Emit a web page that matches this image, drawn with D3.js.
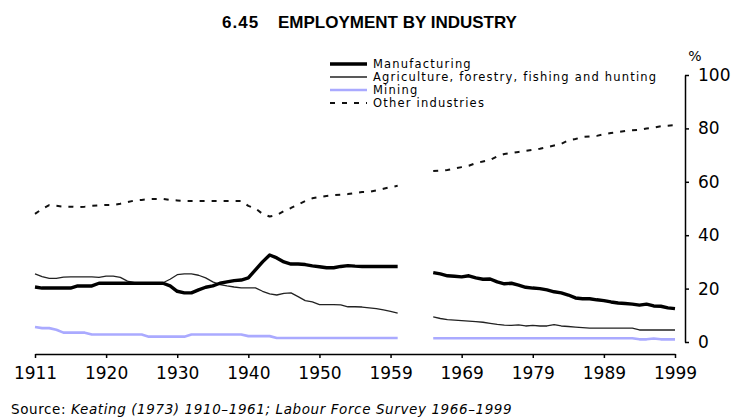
<!DOCTYPE html>
<html>
<head>
<meta charset="utf-8">
<script src="https://cdn.jsdelivr.net/npm/d3@7"></script>
<style>
  html, body { margin: 0; padding: 0; background: #fff; }
  svg { display: block; }
</style>
</head>
<body>
<svg id="chart" width="733" height="419"></svg>
<script>
// ---- Data (one value per period slot; null = no data between the two sources) ----
const xTickLabels = ["1911", "1920", "1930", "1940", "1950", "1959", "1969", "1979", "1989", "1999"];
const yTickValues = [0, 20, 40, 60, 80, 100];

const manufacturing = [
  20.6, 20.2, 20.2, 20.2, 20.2, 20.2, 21, 21, 21, 22,
  22, 22, 22, 22, 22, 22, 22, 22, 22, 21,
  19, 18.4, 18.4, 19.5, 20.5, 21, 22, 22.5, 23, 23.2,
  24, 27, 30, 32.6, 31.5, 30, 29.2, 29.2, 29, 28.5,
  28.2, 27.8, 27.8, 28.3, 28.6, 28.4, 28.3, 28.3, 28.3, 28.3,
  28.3, 28.3, null, null, null, null, 26, 25.5, 24.8, 24.6,
  24.4, 24.8, 24, 23.5, 23.6, 22.5, 21.8, 22, 21.3, 20.5,
  20.2, 20, 19.5, 18.8, 18.4, 17.6, 16.5, 16.2, 16.2, 15.8,
  15.5, 15, 14.6, 14.4, 14.2, 13.8, 14.2, 13.5, 13.4, 12.8,
  12.5
];
const agriculture = [
  25.5, 24.5, 23.8, 23.8, 24.3, 24.4, 24.4, 24.4, 24.4, 24.2,
  24.7, 24.7, 24.2, 22.8, 22.2, 22.2, 22.2, 22.2, 22.2, 23.5,
  25.2, 25.5, 25.5, 25, 24, 22.5, 21.5, 21, 20.6, 20.3,
  20.3, 20.3, 19, 18, 17.6, 18.2, 18.4, 17, 15.5, 15,
  14, 14, 14, 13.9, 13.2, 13.2, 13.1, 12.8, 12.5, 12,
  11.5, 10.8, null, null, null, null, 9.4, 8.8, 8.4, 8.2,
  8, 7.8, 7.6, 7.4, 7, 6.6, 6.3, 6.2, 6.4, 6,
  6.2, 6, 6, 6.5, 6, 5.8, 5.6, 5.4, 5.2, 5.2,
  5.2, 5.2, 5.2, 5.2, 5.2, 4.5, 4.5, 4.5, 4.5, 4.5,
  4.5
];
const mining = [
  5.6, 5.2, 5.2, 4.6, 3.5, 3.5, 3.5, 3.5, 2.8, 2.8,
  2.8, 2.8, 2.8, 2.8, 2.8, 2.8, 2, 2, 2, 2,
  2, 2, 2.8, 2.8, 2.8, 2.8, 2.8, 2.8, 2.8, 2.8,
  2.2, 2.2, 2.2, 2.2, 1.5, 1.5, 1.5, 1.5, 1.5, 1.5,
  1.5, 1.5, 1.5, 1.5, 1.5, 1.5, 1.5, 1.5, 1.5, 1.5,
  1.5, 1.5, null, null, null, null, 1.4, 1.4, 1.4, 1.4,
  1.4, 1.4, 1.4, 1.4, 1.4, 1.4, 1.4, 1.4, 1.4, 1.4,
  1.4, 1.4, 1.4, 1.4, 1.4, 1.4, 1.4, 1.4, 1.4, 1.4,
  1.4, 1.4, 1.4, 1.4, 1.4, 1.0, 1.0, 1.3, 1.0, 1.0,
  1.0
];
const otherIndustries = [
  48, 49.8, 51.3, 51, 50.7, 50.7, 50.5, 50.7, 51, 51.2,
  51.3, 51.3, 51.8, 52.4, 53, 53.2, 53.5, 53.6, 53.6, 53.2,
  53, 52.8, 52.8, 52.8, 52.8, 52.8, 52.8, 52.8, 52.8, 52.8,
  51, 50, 48, 47, 47.6, 49, 50.2, 51.5, 52.8, 53.8,
  54.3, 54.7, 55, 55.2, 55.4, 55.8, 56.2, 56.2, 56.8, 57.4,
  58, 58.5, null, null, null, null, 64, 64.2, 64.4, 65,
  65.5, 66, 67, 67.6, 68.2, 69.5, 70.4, 70.8, 71.2, 71.6,
  72, 72.4, 73, 73.6, 74.2, 75.5, 76, 76.8, 77, 77.2,
  77.8, 78.3, 78.6, 79, 79.3, 79.5, 80, 80.3, 80.8, 81,
  81.2
];

const seriesNames = ["Manufacturing", "Agriculture, forestry, fishing and hunting", "Mining", "Other industries"];

// ---- Chart ----
const svg = d3.select("#chart");

const series = [
  { name: seriesNames[0], values: manufacturing, color: "#000", width: 3.4, dash: null },
  { name: seriesNames[1], values: agriculture, color: "#222", width: 1.3, dash: null },
  { name: seriesNames[2], values: mining, color: "#aaaaff", width: 2.6, dash: null },
  { name: seriesNames[3], values: otherIndustries, color: "#111", width: 2, dash: "5,7" }
];

const nSlots = manufacturing.length;
const x = d3.scaleLinear().domain([0, nSlots - 1]).range([35, 675]);
const y = d3.scaleLinear().domain([0, 100]).range([342, 75]);

// Title
svg.append("text").attr("x", 222).attr("y", 28)
  .attr("font-family", "Liberation Sans, Arial, sans-serif").attr("font-weight", "bold")
  .attr("font-size", 17).attr("letter-spacing", 1).text("6.45");
svg.append("text").attr("x", 278).attr("y", 28)
  .attr("font-family", "Liberation Sans, Arial, sans-serif").attr("font-weight", "bold")
  .attr("font-size", 17).text("EMPLOYMENT BY INDUSTRY");

// Lines
const line = d3.line()
  .defined(d => d != null)
  .x((d, i) => x(i))
  .y(d => y(d));

svg.append("g").selectAll("path")
  .data(series.slice().reverse())
  .join("path")
  .attr("fill", "none")
  .attr("stroke", d => d.color)
  .attr("stroke-width", d => d.width)
  .attr("stroke-dasharray", d => d.dash)
  .attr("stroke-linejoin", "round")
  .attr("d", d => line(d.values));

// X axis
const xAxis = d3.axisBottom(x)
  .tickValues(d3.range(0, nSlots, 10))
  .tickFormat((d, i) => xTickLabels[i])
  .tickSize(4).tickSizeOuter(0).tickPadding(9);
const gx = svg.append("g").attr("transform", "translate(0,354)").call(xAxis);
gx.select(".domain").attr("stroke", "#000").attr("stroke-width", 1.5);
gx.selectAll(".tick line").attr("stroke", "#000").attr("stroke-width", 1.5);
gx.selectAll("text").attr("font-family", "DejaVu Sans, sans-serif").attr("font-size", 17).attr("fill", "#000");

// Y axis (right)
const yAxis = d3.axisRight(y)
  .tickValues(yTickValues)
  .tickSize(4).tickSizeOuter(0).tickPadding(9);
const gy = svg.append("g").attr("transform", "translate(685,0)").call(yAxis);
gy.select(".domain").attr("stroke", "#000").attr("stroke-width", 1.5);
gy.selectAll(".tick line").attr("stroke", "#000").attr("stroke-width", 1.5);
gy.selectAll("text").attr("font-family", "DejaVu Sans, sans-serif").attr("font-size", 17).attr("fill", "#000");

svg.append("text").attr("x", 695).attr("y", 61).attr("text-anchor", "middle")
  .attr("font-family", "DejaVu Sans, sans-serif").attr("font-size", 14).text("%");

// Legend
const legend = svg.append("g").attr("transform", "translate(330,64)");
const rows = legend.selectAll("g").data(series).join("g")
  .attr("transform", (d, i) => `translate(0,${i * 13})`);
rows.append("line").attr("x1", 0).attr("x2", 37).attr("y1", 0).attr("y2", 0)
  .attr("stroke", d => d.color)
  .attr("stroke-width", d => d.width)
  .attr("stroke-dasharray", d => d.dash);
rows.append("text").attr("x", 43).attr("y", 4)
  .attr("font-family", "DejaVu Sans, sans-serif").attr("font-size", 11.5).attr("letter-spacing", 1.2)
  .text(d => d.name);

// Source
const src = svg.append("text").attr("x", 11).attr("y", 414)
  .attr("font-family", "DejaVu Sans, sans-serif").attr("font-size", 13.5).attr("letter-spacing", 0.6);
src.append("tspan").text("Source: ");
src.append("tspan").attr("font-style", "italic").text("Keating (1973) 1910\u20131961; Labour Force Survey 1966\u20131999");
</script>
</body>
</html>
